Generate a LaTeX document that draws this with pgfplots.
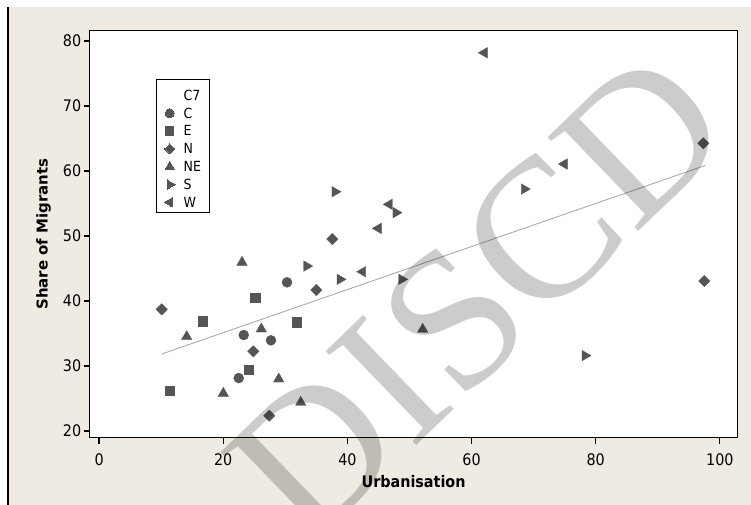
\documentclass[border=0pt]{standalone}
\usepackage{pgfplots}
\pgfplotsset{compat=1.18}
\usepackage{fontspec}
\setmainfont{DejaVu Sans}
\newfontfamily\cond{DejaVu Sans Condensed}
\newfontfamily\wm{Liberation Serif}
\definecolor{bgc}{RGB}{239,235,226}
\definecolor{mk}{RGB}{85,85,85}
\definecolor{fitc}{RGB}{170,170,170}
\begin{document}
\begin{tikzpicture}[x=1bp,y=1bp]
\path[use as bounding box] (0,0) rectangle (751,505);
\begin{scope}
\clip (0,0) rectangle (751,505);
\fill[bgc] (8,0) rectangle (751,498);
\draw[black,line width=1.2bp] (8,0) -- (8,498);
\begin{axis}[
  at={(89.6bp,67.3bp)}, anchor=south west,
  scale only axis, width=647.9bp, height=407bp,
  xmin=-1.53, xmax=102.85, ymin=18.97, ymax=81.6,
  axis background/.style={fill=white},
  xtick={0,20,...,100}, ytick={20,30,...,80},
  tick pos=left, tick align=outside, major tick length=6bp,
  tick style={line width=1.2bp, black},
  axis line style={line width=1.2bp, black},
  /pgf/number format/assume math mode=true,
  ticklabel style={font=\cond\fontsize{16}{16}\selectfont, inner sep=0pt},
  xticklabel style={anchor=north, yshift=-9.6bp},
  yticklabel style={anchor=east, xshift=-2.2bp},
  xlabel={Urbanisation},
  xlabel style={font=\cond\bfseries\fontsize{16}{16}\selectfont, at={(axis description cs:0.5,0)}, anchor=center, yshift=-44.3bp, inner sep=0pt},
  ylabel={Share of Migrants},
  ylabel style={font=\bfseries\fontsize{15}{15}\selectfont, at={(axis description cs:0,0.5)}, anchor=center, yshift=46.1bp, inner sep=0pt},
  legend style={at={(axis description cs:0.102,0.881)}, anchor=north west, draw=black, line width=0.9bp, fill=white,
    font=\cond\fontsize{14}{14}\selectfont, inner xsep=8.2bp, inner ysep=4.2bp, row sep=0bp,
    nodes={inner sep=0pt, text height=16.6bp, text depth=1.2bp},
    /tikz/every odd column/.append style={column sep=8.5bp}},
  legend cell align=left,
  legend image code/.code={\draw[#1, line width=0pt, /tikz/every mark/.append style={scale=0.9}] plot coordinates {(0bp,-2.8bp)};},
  clip=false,
]
\addplot[fitc, line width=0.9bp, forget plot] coordinates {(10.09,31.85) (97.62,60.85)};
\addlegendimage{empty legend}\addlegendentry{C7}
\addplot[only marks, mark=*, mark size=5bp, mk, mark options={fill=mk, draw=mk}] coordinates {
(30.27,42.88) (23.30,34.77) (27.69,33.95) (22.49,28.15)};
\addlegendentry{C}
\addplot[only marks, mark=square*, mark size=4.7bp, mk, mark options={fill=mk, draw=mk}] coordinates {
(25.12,40.51) (16.69,36.92) (31.88,36.72) (24.10,29.43) (11.37,26.20)};
\addlegendentry{E}
\addplot[only marks, mark=square*, mark size=4bp, mk, mark options={fill=mk, draw=mk, rotate=45}] coordinates {
(37.57,49.54) (34.99,41.69) (10.09,38.72) (24.84,32.26) (27.42,22.35) (97.34,64.26) (97.50,43.08)};
\addlegendentry{N}
\addplot[only marks, mark=triangle*, mark size=6bp, mk, mark options={fill=mk, draw=mk}] coordinates {
(23.02,45.95) (26.13,35.69) (14.11,34.51) (28.94,28.00) (20.01,25.80) (32.48,24.42) (52.13,35.65)};
\addlegendentry{NE}
\addplot[only marks, mark=triangle*, mark size=6bp, mk, mark options={fill=mk, draw=mk, rotate=-90}] coordinates {
(33.45,45.38) (38.81,43.34) (48.75,43.34) (38.00,56.82) (47.83,53.60) (68.50,57.23) (78.28,31.60)};
\addlegendentry{S}
\addplot[only marks, mark=triangle*, mark size=6bp, mk, mark options={fill=mk, draw=mk, rotate=90}] coordinates {
(42.47,44.51) (46.75,54.88) (44.98,51.18) (62.06,78.20) (74.95,61.08)};
\addlegendentry{W}
\end{axis}
\node[font=\wm\fontsize{200}{200}\selectfont, text=black, opacity=0.2, rotate=44, anchor=base, inner sep=0pt] at (523,162) {DISCD};
\end{scope}
\end{tikzpicture}
\end{document}
